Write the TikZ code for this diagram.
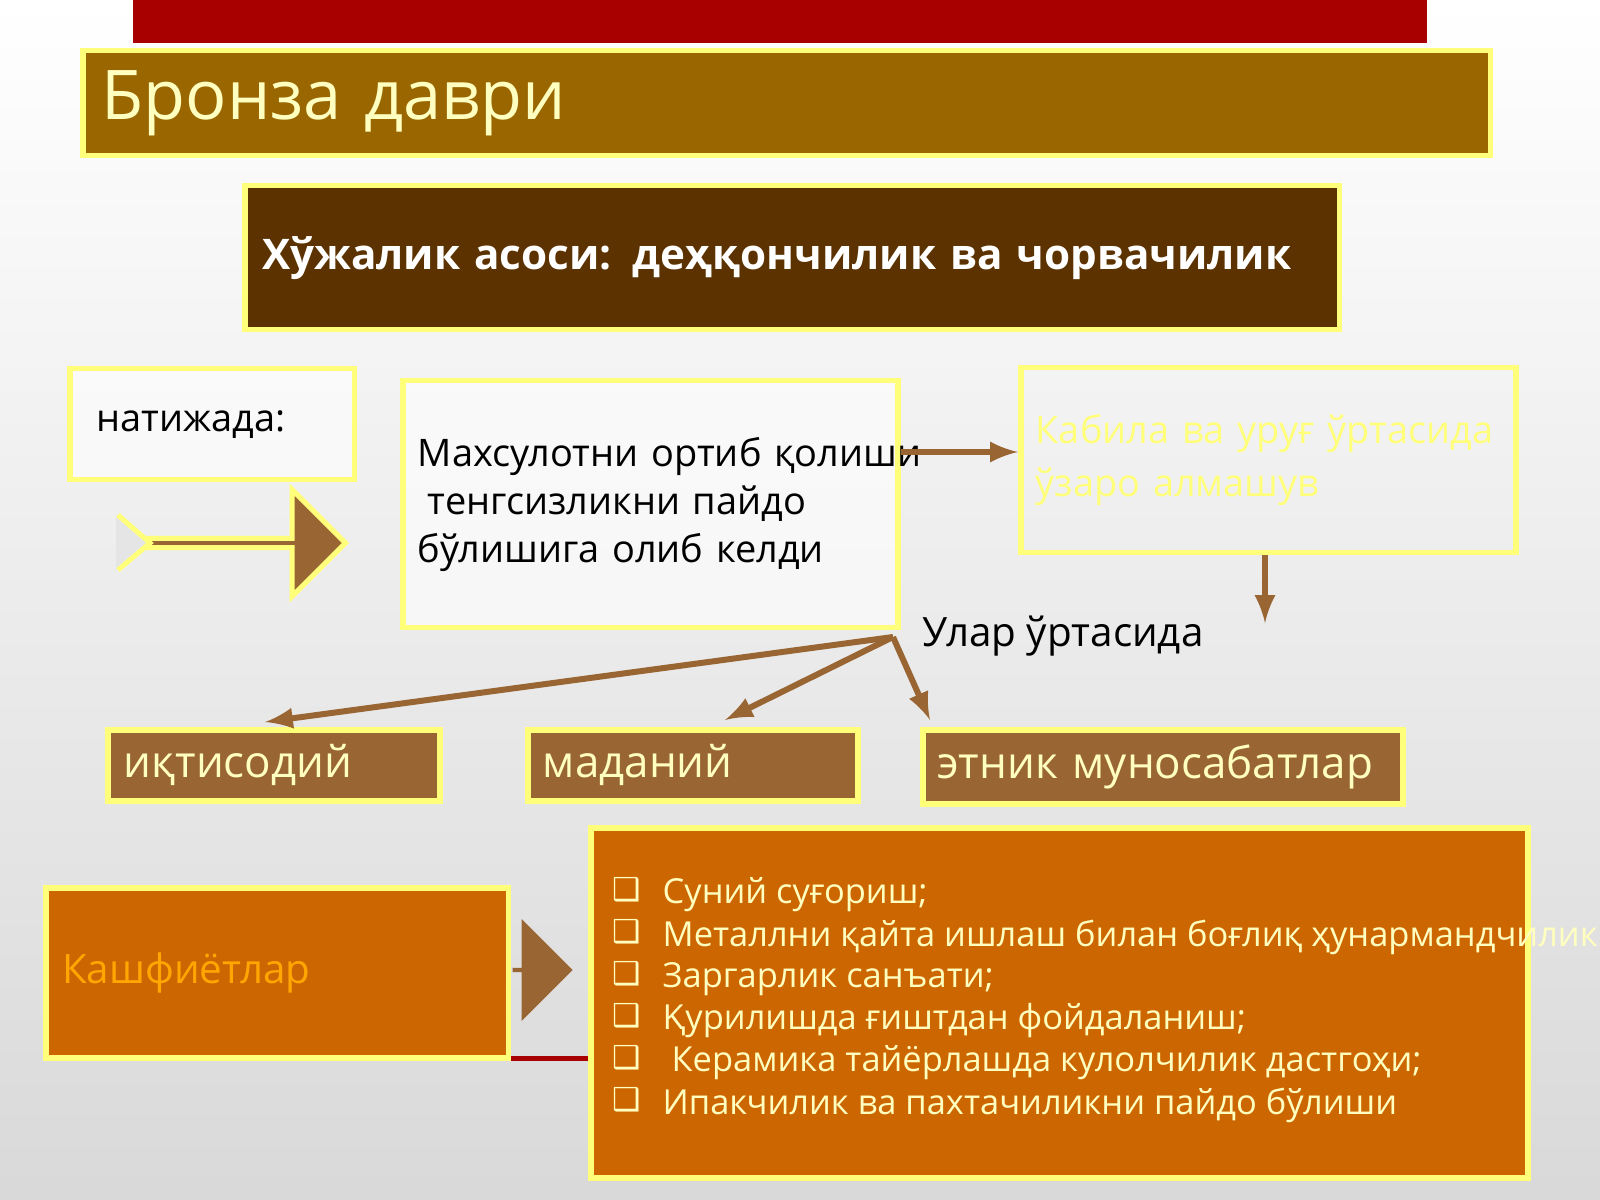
\documentclass[tikz,border=0pt]{standalone}
\usepackage{fontspec}
\setmainfont{Open Sans}
\newfontfamily\symfont{DejaVu Sans}
\usetikzlibrary{shapes.arrows, positioning}
\definecolor{barred}{HTML}{A80000}
\definecolor{titlebrown}{HTML}{996600}
\definecolor{darkbrown}{HTML}{5C3300}
\definecolor{midbrown}{HTML}{996633}
\definecolor{boxorange}{HTML}{CC6600}
\definecolor{glow}{HTML}{FFFF7A}
\definecolor{paleyellow}{HTML}{FFFFC0}

\begin{document}
\begin{tikzpicture}[x=0.1mm, y=-0.1mm, box/.style={
        rectangle,
        draw=glow,
        line width=0.55mm,
        anchor=north west,
        inner sep=1.5mm
    }, tag/.style={
        box,
        fill=midbrown,
        text=paleyellow,
        font=\fontsize{12.5}{14}\selectfont,
        minimum height=7mm,
        text width=30mm,
        align=left
    }, arrow/.style={
        line width=0.6mm, draw=midbrown, -latex
    }, item/.style={
        anchor=west,
        text=paleyellow,
        font=\fontsize{9.8}{11}\selectfont
    }]
    \useasboundingbox (0,0) rectangle (1600,1200);
    \clip (0,0) rectangle (1600,1200);
    \shade[top color=white, bottom color=black!15] (0,0) rectangle (1600,1200);
    \fill[barred] (133,0) rectangle (1427,43);
    \draw[barred, line width=0.5mm] (133,1058) -- (590,1058);

    \node (title) [box, fill=titlebrown, minimum width=140.8mm, minimum height=10.5mm,
        text=paleyellow, font=\fontsize{19.5}{22}\selectfont, align=left, text width=137mm] at (80,48) {Бронза даври};
    \node (basis) [box, fill=darkbrown, minimum width=109.5mm, minimum height=14.4mm,
        text=white, font=\bfseries\fontsize{12}{14}\selectfont, text width=106mm] at (242,183) {Хўжалик асоси: деҳқончилик ва чорвачилик};
    \node (result) [box, fill=white, fill opacity=0.6, text opacity=1, minimum width=28.5mm, minimum height=11.1mm,
        text width=25.5mm, align=left, font=\fontsize{10.8}{13}\selectfont] at (67,366) {\hspace*{1.2mm}натижада:\\[3mm]};
    \node (bigarrow) [single arrow, single arrow head extend=2.6mm, minimum height=22.5mm, minimum width=10.7mm,
        fill=midbrown, draw=glow, line width=0.5mm, anchor=west, inner sep=0] at (118,543) {};
    \fill[white!90!black] (116,515) -- (150,543) -- (116,570) -- cycle;
    \draw[glow, line width=0.5mm] (118,515) -- (150,543) -- (118,570);
    \node (surplus) [box, fill=white, fill opacity=0.6, text opacity=1, minimum width=49.5mm, minimum height=24.7mm,
        text width=46.5mm, align=left, font=\fontsize{10.8}{13.6}\selectfont] at (400,378)
        {\rlap{Махсулотни ортиб қолиши}\\ \hspace*{1mm}тенгсизликни пайдо\\ бўлишига олиб келди};
    \node (exchange) [box, minimum width=49.5mm, minimum height=18.5mm, text=glow,
        text width=46.5mm, align=left, font=\fontsize{10.8}{15}\selectfont] at (1018,365)
        {\rlap{Кабила ва уруғ ўртасида}\\ ўзаро алмашув\\[3mm]};
    \node (between) [anchor=west, font=\fontsize{11.5}{14}\selectfont, inner sep=0] at (922,636) {Улар ўртасида};
    \coordinate (fork) at (893,637);
    \node (econ) [tag, minimum width=33.2mm] at (105,727) {иқтисодий};
    \node (cult) [tag, minimum width=32mm] at (525,727) {маданий};
    \node (ethn) [tag, minimum width=47.8mm, text width=45mm] at (920,727) {этник муносабатлар};
    \node (finds) [box, fill=boxorange, minimum width=46.3mm, minimum height=17mm, text=orange!70!yellow,
        text width=43mm, align=left, font=\fontsize{11.5}{14}\selectfont] at (43,885) {Кашфиётлар};
    \node (smallarrow) [single arrow, single arrow head extend=1.6mm, minimum height=6mm, minimum width=10.2mm,
        fill=midbrown, anchor=west, inner sep=0] at (512,970) {};
    \node (list) [box, fill=boxorange, minimum width=93.7mm, minimum height=35mm] at (588,825) {};
    \foreach \txt [count=\i] in {Суний суғориш;,
        Металлни қайта ишлаш билан боғлиқ ҳунармандчилик,
        Заргарлик санъати;,
        Қурилишда ғиштдан фойдаланиш;,
        \ Керамика тайёрлашда кулолчилик дастгоҳи;,
        Ипакчилик ва пахтачиликни пайдо бўлиши}{
        \node (mark\i) [item, font=\symfont\fontsize{9}{11}\selectfont] at (600,848+42*\i) {❑};
        \node (item\i) [item, inner sep=0] at (662,853+42*\i) {\txt};
    }
    \draw [arrow] (surplus.east |- 0,452) -- (exchange.west |- 0,452);
    \draw [arrow] (exchange.south -| 1265,0) -- (1265,623);
    \draw [arrow] (fork) -- (265,722);
    \draw [arrow] (fork) -- (725,720);
    \draw [arrow] (fork) -- (930,720);
\end{tikzpicture}
\end{document}
